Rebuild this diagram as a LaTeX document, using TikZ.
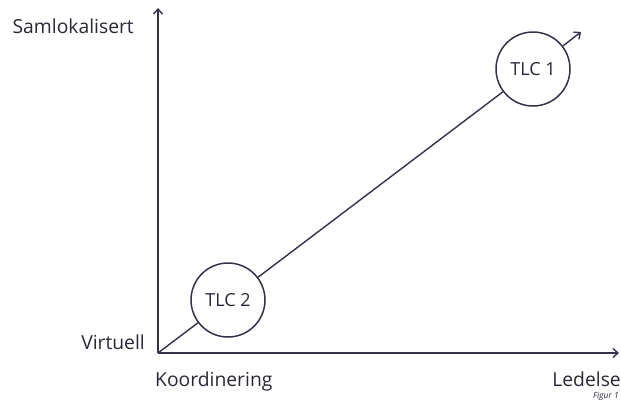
\documentclass[tikz,border=0pt]{standalone}
\usepackage{fontspec}
\setmainfont{Open Sans}
\usetikzlibrary{arrows.meta}
\definecolor{ink}{RGB}{50,50,72}
\definecolor{txt}{RGB}{40,40,52}
\tikzset{
  axis/.style={draw=ink, line width=1.7pt, -{Straight Barb[length=5pt,width=9pt,line width=1.4pt]}},
  link/.style={draw=ink, line width=1.4pt},
  tlc/.style={circle, draw=ink, line width=1.5pt, minimum size=74pt, inner sep=0pt,
              font=\fontsize{18}{20}\selectfont, text=txt, fill=white},
  lbl/.style={font=\fontsize{19.3}{21}\selectfont, text=txt, inner sep=0pt},
}
\begin{document}
\begin{tikzpicture}[x=1pt,y=-1pt]
  \useasboundingbox (0,0) rectangle (621,410);
  % axes
  \coordinate (o) at (158,353);
  \coordinate (ytop) at (158,8);
  \coordinate (xend) at (619,353);
  \coordinate (tip) at (581,32);
  % diagonal link and the two TLC circles
  \node[tlc] (t2) at (228,300) {TLC 2};
  \node[tlc] (t1) at (533,69) {TLC 1};
  \draw[link] (o) -- (t2);
  \draw[link] (t2) -- (t1);
  \draw[link, -{Straight Barb[length=5pt,width=9pt,line width=1.4pt]}] (t1) -- (tip);
  \draw[axis] (o) -- (ytop);
  \draw[axis] (o) -- (xend);
  % axis labels
  \node[lbl, anchor=east] (sam) at (134,26) {Samlokalisert};
  \node[lbl, anchor=east] (vir) at (145,342) {Virtuell};
  \node[lbl, anchor=west] (koo) at (155,381) {Koordinering};
  \node[lbl, anchor=east] (led) at (621,379) {Ledelse};
  \node[anchor=east, inner sep=0pt, text=txt, font=\fontsize{8.5}{9}\selectfont\itshape] (fig) at (619,396) {Figur 1};
\end{tikzpicture}
\end{document}
